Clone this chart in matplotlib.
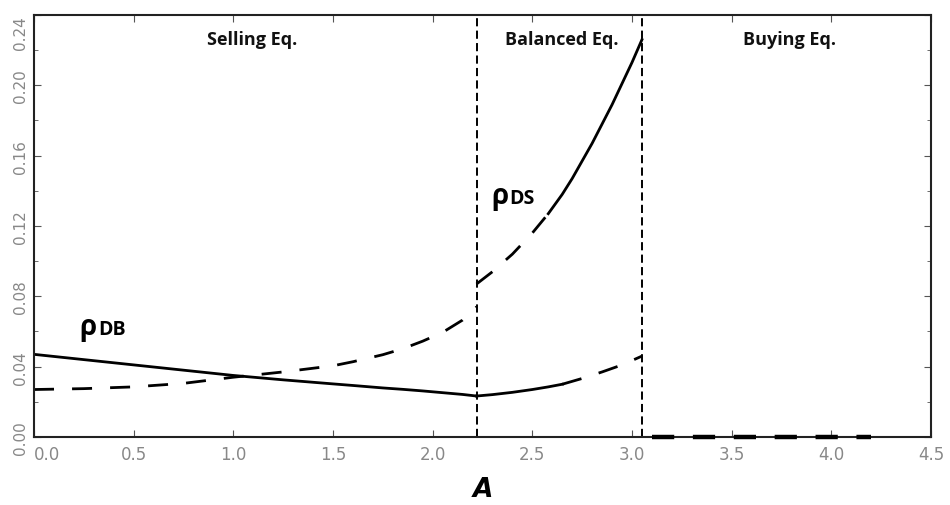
import matplotlib.pyplot as plt
from matplotlib.ticker import MultipleLocator

# selling equilibrium region
sell_x = [0, 0.25, 0.5, 0.75, 1.0, 1.25, 1.5, 1.6, 1.75, 1.85, 1.95, 2.05, 2.15, 2.22]
rho_db_sell = [0.047, 0.044, 0.041, 0.038, 0.035, 0.0325, 0.0302, 0.0293, 0.0279, 0.0271,
               0.0262, 0.0252, 0.0242, 0.0233]
rho_ds_sell = [0.027, 0.0275, 0.0285, 0.0305, 0.034, 0.037, 0.0405, 0.0428, 0.0468, 0.0502,
               0.0545, 0.0595, 0.0665, 0.074]

# balanced equilibrium region (each curve changes style part way)
ds_bal_dash_x = [2.22, 2.3, 2.4, 2.5, 2.58]
ds_bal_dash_y = [0.087, 0.094, 0.104, 0.116, 0.127]
ds_bal_solid_x = [2.58, 2.65, 2.7, 2.75, 2.8, 2.85, 2.9, 2.95, 3.0, 3.05]
ds_bal_solid_y = [0.127, 0.138, 0.147, 0.157, 0.167, 0.178, 0.189, 0.201, 0.213, 0.226]

db_bal_solid_x = [2.22, 2.3, 2.4, 2.5, 2.58, 2.65]
db_bal_solid_y = [0.0233, 0.0241, 0.0254, 0.027, 0.0285, 0.030]
db_bal_dash_x = [2.65, 2.75, 2.85, 2.95, 3.05]
db_bal_dash_y = [0.030, 0.0333, 0.037, 0.041, 0.046]

# buying equilibrium region
buy_x = [3.1, 4.2]
buy_y = [0, 0]

bounds = [2.22, 3.05]
regions = ['Selling Eq.', 'Balanced Eq.', 'Buying Eq.']
region_x = [1.094, 2.65, 3.79]

fig = plt.figure(figsize=(9.5, 5.06), dpi=100)
ax = fig.add_axes([0.0358, 0.1344, 0.9442, 0.834])

dash = (7.2, 6.5)
ax.plot(sell_x, rho_db_sell, color='black', lw=2)
ax.plot(sell_x, rho_ds_sell, color='black', lw=2, dashes=dash)
ax.plot(ds_bal_dash_x, ds_bal_dash_y, color='black', lw=2, dashes=dash)
ax.plot(ds_bal_solid_x, ds_bal_solid_y, color='black', lw=2)
ax.plot(db_bal_solid_x, db_bal_solid_y, color='black', lw=2)
ax.plot(db_bal_dash_x, db_bal_dash_y, color='black', lw=2, dashes=dash)
ax.plot(buy_x, buy_y, color='black', lw=3.2, dashes=(5, 4.2), clip_on=False, zorder=5)

for b in bounds:
    ax.axvline(b, color='black', lw=1.4, dashes=(4.2, 2.2))

for name, xr in zip(regions, region_x):
    ax.text(xr, 0.2264, name, ha='center', va='center', fontsize=13,
            fontweight='bold', family='Open Sans', color='#111111')

ax.text(0.23, 0.0586, 'ρ', fontsize=20, fontweight='bold', family='Open Sans', va='baseline')
ax.text(0.32, 0.0586, 'DB', fontsize=14, fontweight='bold', family='Open Sans', va='baseline')
ax.text(2.295, 0.133, 'ρ', fontsize=20, fontweight='bold', family='Open Sans', va='baseline')
ax.text(2.385, 0.133, 'DS', fontsize=14, fontweight='bold', family='Open Sans', va='baseline')

ax.set_xlim(0, 4.5)
ax.set_ylim(0, 0.24)
ax.yaxis.set_minor_locator(MultipleLocator(0.02))
ax.tick_params(which='both', direction='in', top=True, right=True, color='#555555',
               labelcolor='#888888', labelsize=12)
ax.tick_params(axis='y', labelsize=11)
ax.tick_params(which='major', length=5)
ax.tick_params(which='minor', length=3)
ax.tick_params(axis='x', pad=6)
ax.tick_params(axis='y', pad=4)
ax.set_xticks([0, 0.5, 1, 1.5, 2, 2.5, 3, 3.5, 4, 4.5])
ax.set_xticklabels(['0.0', '0.5', '1.0', '1.5', '2.0', '2.5', '3.0', '3.5', '4.0', '4.5'])
ax.get_xticklabels()[0].set_ha('left')
ax.set_yticks([0, 0.04, 0.08, 0.12, 0.16, 0.20, 0.24])
ax.set_yticklabels(['0.00', '0.04', '0.08', '0.12', '0.16', '0.20', '0.24'],
                   rotation=90, va='center')
ax.get_yticklabels()[-1].set_va('top')
for s in ax.spines.values():
    s.set_linewidth(1.5)
    s.set_color('#222222')

ax.set_xlabel('A', fontsize=19, fontweight='bold', fontstyle='italic', labelpad=9)

fig.savefig('out.png', dpi=100)
